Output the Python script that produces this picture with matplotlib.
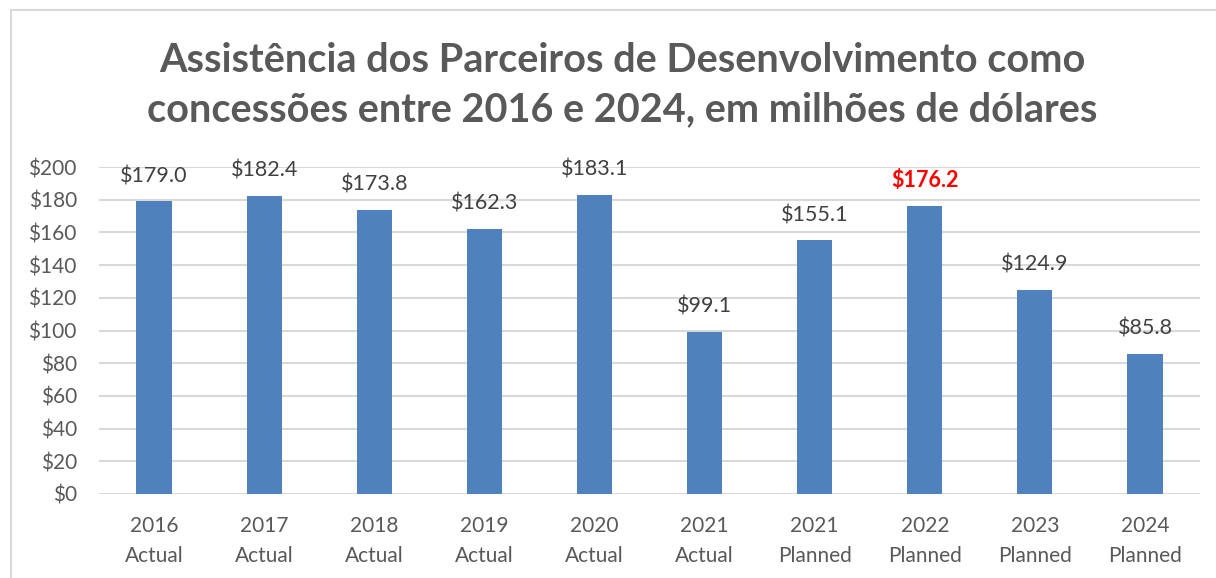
import matplotlib.pyplot as plt
from matplotlib.patches import Rectangle

plt.rcParams['font.family'] = ['Lato', 'DejaVu Sans']

# Values (millions of USD)
labels = ['2016\nActual', '2017\nActual', '2018\nActual', '2019\nActual', '2020\nActual',
          '2021\nActual', '2021\nPlanned', '2022\nPlanned', '2023\nPlanned', '2024\nPlanned']
values = [179.0, 182.4, 173.8, 162.3, 183.1, 99.1, 155.1, 176.2, 124.9, 85.8]
highlight = '2022\nPlanned'

bar_color = '#4f81bd'
grid_color = '#d9d9d9'
text_gray = '#595959'

fig = plt.figure(figsize=(12.16, 5.78), dpi=100)

# chart area border
fig.patches.append(Rectangle((11 / 1216, -0.05), 1.1, 1 - 10 / 578 + 0.05,
                             transform=fig.transFigure, fill=False,
                             edgecolor=grid_color, linewidth=1.5))

ax = fig.add_axes([99 / 1216, 84 / 578, 1101 / 1216, 327 / 578])
x = range(len(values))
ax.bar(x, values, width=0.32, color=bar_color, zorder=3)

ax.set_xlim(-0.5, len(values) - 0.5)
ax.set_ylim(0, 200)
ax.set_yticks(range(0, 201, 20))
ax.set_yticklabels([f'${v}' for v in range(0, 201, 20)])
ax.set_xticks(list(x))
ax.set_xticklabels(labels, linespacing=1.6)

ax.grid(axis='y', color=grid_color, linewidth=1.5, zorder=0)
for s in ax.spines.values():
    s.set_visible(False)
ax.tick_params(length=0, labelsize=15, colors=text_gray)
ax.tick_params(axis='x', pad=16)
ax.tick_params(axis='y', pad=16)

for i, (lab, v) in enumerate(zip(labels, values)):
    if lab == highlight:
        ax.annotate(f'${v:.1f}', (i, v), xytext=(0, 11), textcoords='offset points',
                    ha='center', va='bottom', fontsize=15.5, color='#ff0000',
                    fontweight='bold')
    else:
        ax.annotate(f'${v:.1f}', (i, v), xytext=(0, 11), textcoords='offset points',
                    ha='center', va='bottom', fontsize=15.5, color='#404040')

fig.text(622 / 1216, 0.853, 'Assistência dos Parceiros de Desenvolvimento como\n'
         'concessões entre 2016 e 2024, em milhões de dólares',
         ha='center', va='center', fontsize=28.5, fontweight='bold',
         color=text_gray, linespacing=1.42)

plt.savefig('out.png', dpi=100)
plt.close()
